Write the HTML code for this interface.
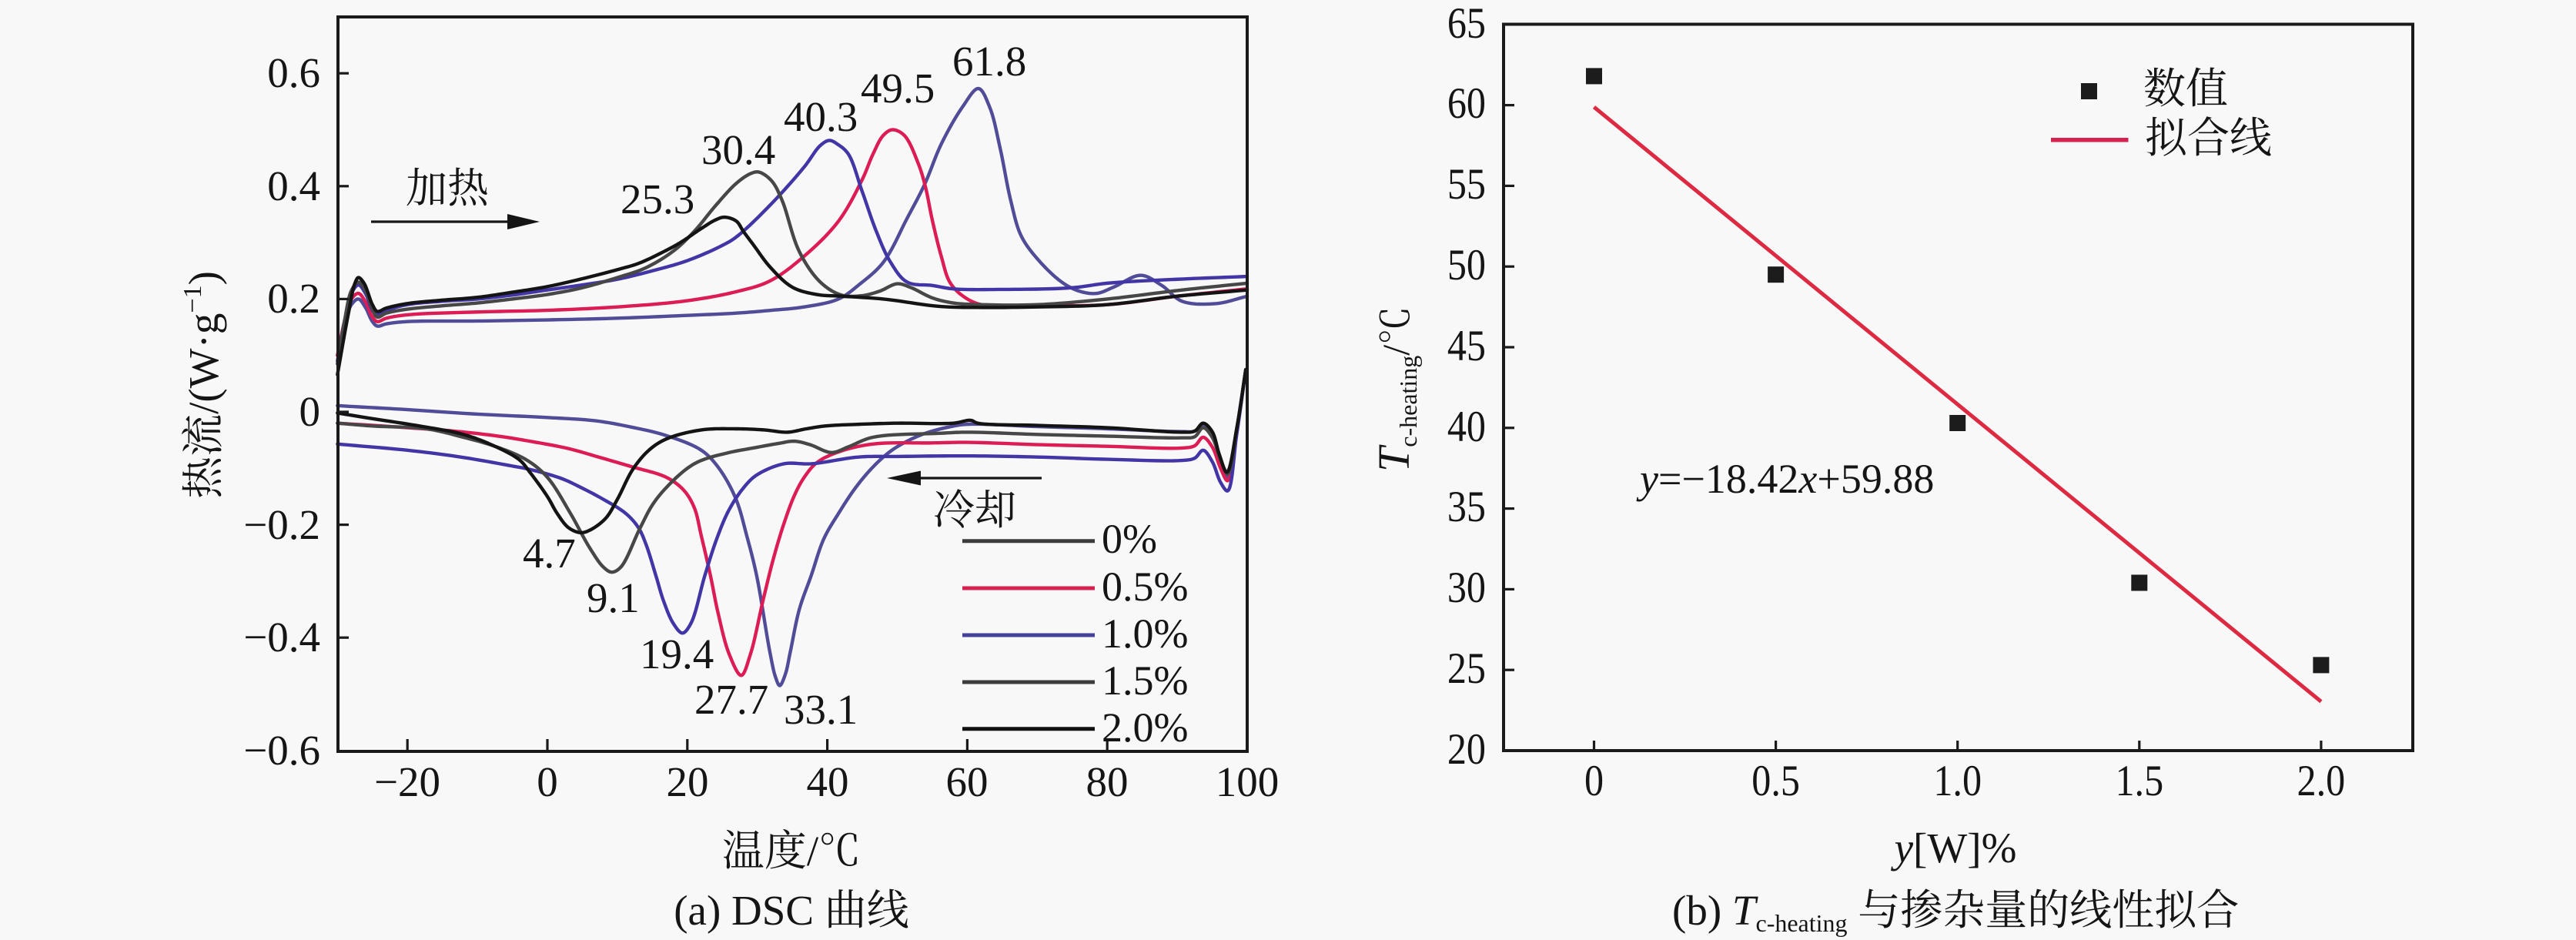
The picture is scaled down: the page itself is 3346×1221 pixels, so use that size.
<!DOCTYPE html>
<html><head><meta charset="utf-8"><style>
html,body{margin:0;padding:0;background:#f8f8f8;}
svg{display:block;}
text{font-family:"Liberation Serif","Noto Serif CJK SC",serif;fill:#151515;}
.c{fill:none;stroke-width:4.4;stroke-linejoin:round;stroke-linecap:round;vector-effect:non-scaling-stroke;}
</style></head><body>
<svg width="3346" height="1221" viewBox="0 0 3346 1221" xmlns="http://www.w3.org/2000/svg">
<rect x="0" y="0" width="3346" height="1221" fill="#f8f8f8"/>

<!-- ============ LEFT CHART ============ -->
<g transform="matrix(9.09 0 0 -733 711 535)">
<!-- heating -->
<polyline class="c sm" stroke="#514c98" points="-30,0.1 -29,0.155 -28,0.19 -27,0.2 -26,0.185 -25,0.16 -24.3,0.152 -23,0.156 -20,0.16 -10,0.161 0,0.163 10,0.166 20,0.171 27,0.175 32,0.18 36.7,0.186 41.6,0.2 44.6,0.226 48,0.265 51.4,0.343 53.9,0.403 56.3,0.475 59.3,0.54 61.6,0.573 63.2,0.54 64.7,0.467 66.2,0.375 67.7,0.312 70.1,0.27 73.5,0.23 76,0.214 78.5,0.21 80.9,0.221 84.8,0.242 87.8,0.224 90.7,0.196 95.6,0.192 100,0.205"/>
<polyline class="c sm" stroke="#dc1d55" points="-30,0.1 -29,0.16 -28,0.2 -27,0.21 -26,0.195 -25,0.168 -24.3,0.16 -23,0.166 -20,0.172 -10,0.177 0,0.18 10,0.186 20,0.197 27,0.213 31.8,0.232 36.7,0.276 41.6,0.338 45,0.412 46.5,0.456 48,0.49 49.3,0.5 51,0.49 53,0.44 54,0.4 55,0.34 56.3,0.275 57.5,0.23 59.3,0.206 62,0.19 70,0.188 80,0.19 90,0.205 100,0.218"/>
<polyline class="c sm" stroke="#4236a6" points="-30,0.09 -29,0.16 -28,0.21 -27,0.225 -26,0.21 -25,0.18 -24.3,0.172 -23,0.18 -20,0.19 -15,0.196 -10,0.2 -5,0.207 0,0.216 5,0.225 10,0.235 15,0.25 20,0.268 25,0.295 27,0.31 31.8,0.366 36.7,0.434 39,0.472 40.3,0.481 41.5,0.474 43,0.457 45,0.39 47,0.32 49,0.266 51.4,0.23 55,0.224 58,0.218 65,0.217 75,0.22 80,0.228 90,0.235 100,0.24"/>
<polyline class="c sm" stroke="#474747" points="-30,0.085 -29,0.16 -28,0.215 -27,0.23 -26,0.215 -25,0.182 -24.3,0.168 -23,0.175 -20,0.182 -15,0.188 -10,0.193 -5,0.2 0,0.208 5,0.22 10,0.238 14,0.255 18,0.285 21,0.32 24,0.365 27,0.405 29,0.422 30.2,0.425 32,0.41 33.5,0.376 36,0.284 39,0.23 42,0.207 45,0.206 47.5,0.214 50,0.227 52,0.22 55,0.202 58,0.193 62,0.19 70,0.19 80,0.2 90,0.215 100,0.228"/>
<polyline class="c sm" stroke="#141414" points="-30,0.066 -28.5,0.17 -27.5,0.228 -27,0.238 -26.2,0.228 -25,0.19 -24.3,0.178 -23,0.184 -20,0.192 -15,0.198 -10,0.203 -5,0.212 0,0.222 5,0.236 10,0.252 13,0.263 16,0.28 19,0.3 22,0.325 24,0.34 25.3,0.345 27,0.338 28,0.32 29.5,0.295 31.8,0.257 35,0.221 38.5,0.208 42,0.205 48,0.2 56,0.187 62,0.185 70,0.186 80,0.19 90,0.205 100,0.216"/>
<!-- cooling -->
<polyline class="c sm" stroke="#514c98" points="-30,0.011 -20,0.004 -10,-0.004 0,-0.01 7,-0.016 12,-0.027 17,-0.042 22,-0.068 24.4,-0.098 26.9,-0.153 28.5,-0.22 29.9,-0.29 31.8,-0.426 32.6,-0.47 33.2,-0.485 34,-0.465 34.7,-0.426 36,-0.35 37.7,-0.29 39.5,-0.225 41.6,-0.18 44,-0.135 46.5,-0.098 49,-0.07 51.4,-0.052 54,-0.038 57.3,-0.027 60,-0.022 70,-0.026 80,-0.03 90.7,-0.035 92.5,-0.034 93.7,-0.022 95,-0.038 96.2,-0.085 97.2,-0.115 98.5,-0.03 99.8,0.075"/>
<polyline class="c sm" stroke="#dc1d55" points="-30,-0.02 -20,-0.028 -13.4,-0.034 -7,-0.043 -2.5,-0.052 3,-0.065 7.3,-0.08 12,-0.097 17,-0.116 19.5,-0.139 21,-0.17 22,-0.22 23.3,-0.29 24.4,-0.357 26,-0.43 27.7,-0.467 29,-0.43 30.8,-0.335 32.3,-0.26 33.8,-0.198 35.3,-0.148 36.7,-0.116 38.5,-0.09 41.6,-0.071 46.5,-0.057 55,-0.055 60,-0.054 70,-0.058 80,-0.061 90.7,-0.064 92.5,-0.06 93.7,-0.045 95,-0.062 96.2,-0.1 97.2,-0.122 98.5,-0.035 99.8,0.075"/>
<polyline class="c sm" stroke="#4236a6" points="-30,-0.057 -20,-0.068 -12.4,-0.08 -5,-0.096 -2.5,-0.102 2,-0.118 4.8,-0.134 8,-0.155 11.2,-0.18 13,-0.205 14.1,-0.235 15.5,-0.29 16.6,-0.335 18,-0.375 19.3,-0.392 20.5,-0.375 22.5,-0.29 24.2,-0.225 25.9,-0.175 28,-0.135 29.9,-0.112 33.8,-0.092 37.7,-0.092 44.5,-0.08 50,-0.079 60,-0.078 70,-0.08 80,-0.084 90.7,-0.086 92.5,-0.082 93.7,-0.068 95,-0.088 96.2,-0.125 97.2,-0.14 98.5,-0.04 99.8,0.075"/>
<polyline class="c sm" stroke="#474747" points="-30,-0.02 -25,-0.025 -17.3,-0.03 -12,-0.045 -7.5,-0.061 -3,-0.085 0,-0.116 3.3,-0.18 6,-0.24 8,-0.275 9.2,-0.284 10.5,-0.275 13.2,-0.207 15,-0.165 17,-0.134 20,-0.1 22,-0.086 26,-0.072 29.4,-0.064 33,-0.056 35.3,-0.052 37.5,-0.058 40.6,-0.072 43,-0.062 46.5,-0.045 56,-0.038 60,-0.036 70,-0.04 80,-0.043 90.7,-0.046 92.5,-0.044 93.7,-0.028 95,-0.045 96.2,-0.085 97.2,-0.11 98.5,-0.03 99.8,0.075"/>
<polyline class="c sm" stroke="#141414" points="-30,-0.002 -25,-0.012 -18.3,-0.025 -12,-0.04 -7.5,-0.061 -4,-0.085 -2.5,-0.107 0,-0.15 1.4,-0.18 3,-0.205 4.7,-0.214 6,-0.21 8.3,-0.189 10,-0.155 12.2,-0.102 14.5,-0.068 17,-0.048 22,-0.032 26.9,-0.03 31,-0.032 34.3,-0.036 37,-0.03 39.7,-0.025 44.5,-0.022 50,-0.02 58,-0.02 60.5,-0.015 61.5,-0.02 70,-0.024 80,-0.028 90.7,-0.036 92.5,-0.034 93.7,-0.02 95,-0.035 96,-0.075 97.1,-0.107 98.5,-0.03 99.8,0.075"/>
</g>

<!-- left frame -->
<rect x="439" y="22" width="1181" height="954" fill="none" stroke="#1a1a1a" stroke-width="4"/>
<g stroke="#1a1a1a" stroke-width="3.2">
<line x1="439" y1="95.2" x2="453" y2="95.2"/>
<line x1="439" y1="241.8" x2="453" y2="241.8"/>
<line x1="439" y1="388.4" x2="453" y2="388.4"/>
<line x1="439" y1="535" x2="453" y2="535"/>
<line x1="439" y1="681.6" x2="453" y2="681.6"/>
<line x1="439" y1="828.2" x2="453" y2="828.2"/>
<line x1="529.2" y1="976" x2="529.2" y2="960"/>
<line x1="711" y1="976" x2="711" y2="960"/>
<line x1="892.8" y1="976" x2="892.8" y2="960"/>
<line x1="1074.6" y1="976" x2="1074.6" y2="960"/>
<line x1="1256.4" y1="976" x2="1256.4" y2="960"/>
<line x1="1438.2" y1="976" x2="1438.2" y2="960"/>
</g>
<g font-size="55" text-anchor="end">
<text x="416" y="113">0.6</text>
<text x="416" y="260">0.4</text>
<text x="416" y="406">0.2</text>
<text x="416" y="553">0</text>
<text x="416" y="700">−0.2</text>
<text x="416" y="846">−0.4</text>
<text x="416" y="993">−0.6</text>
</g>
<g font-size="55" text-anchor="middle">
<text x="529" y="1034">−20</text>
<text x="711" y="1034">0</text>
<text x="893" y="1034">20</text>
<text x="1075" y="1034">40</text>
<text x="1256" y="1034">60</text>
<text x="1438" y="1034">80</text>
<text x="1620" y="1034">100</text>
</g>
<text transform="translate(283,500) rotate(-90)" font-size="55" text-anchor="middle">热流/(W·g<tspan font-size="34" dy="-22">−1</tspan><tspan dy="22">)</tspan></text>
<text x="1028" y="1124" font-size="55" text-anchor="middle">温度/℃</text>
<text x="1028" y="1201" font-size="55" text-anchor="middle">(a) DSC 曲线</text>

<!-- peak labels -->
<g font-size="55">
<text x="806" y="277">25.3</text>
<text x="911" y="213">30.4</text>
<text x="1018" y="170">40.3</text>
<text x="1118" y="133">49.5</text>
<text x="1237" y="98">61.8</text>
<text x="679" y="737">4.7</text>
<text x="762" y="795">9.1</text>
<text x="831" y="868">19.4</text>
<text x="902" y="927">27.7</text>
<text x="1018" y="940">33.1</text>
</g>
<!-- arrows -->
<text x="527" y="263" font-size="54">加热</text>
<line x1="482" y1="288" x2="665" y2="288" stroke="#151515" stroke-width="3.2"/>
<polygon points="659,278 701,288 659,298" fill="#151515"/>
<text x="1212" y="681" font-size="54">冷却</text>
<line x1="1192" y1="621" x2="1353" y2="621" stroke="#151515" stroke-width="3.2"/>
<polygon points="1196,611.5 1152,621 1196,630.5" fill="#151515"/>
<!-- legend -->
<g stroke-width="5">
<line x1="1250" y1="702.7" x2="1422" y2="702.7" stroke="#3c3c3c"/>
<line x1="1250" y1="764" x2="1422" y2="764" stroke="#d6204e"/>
<line x1="1250" y1="825" x2="1422" y2="825" stroke="#45409a"/>
<line x1="1250" y1="886" x2="1422" y2="886" stroke="#3c3c3c"/>
<line x1="1250" y1="946.7" x2="1422" y2="946.7" stroke="#111111"/>
</g>
<g font-size="54">
<text x="1431" y="718">0%</text>
<text x="1431" y="780">0.5%</text>
<text x="1431" y="841">1.0%</text>
<text x="1431" y="902">1.5%</text>
<text x="1431" y="963">2.0%</text>
</g>

<!-- ============ RIGHT CHART ============ -->
<rect x="1953" y="31.5" width="1181" height="943.5" fill="none" stroke="#1a1a1a" stroke-width="4"/>
<g stroke="#1a1a1a" stroke-width="3.2">
<line x1="1953" y1="870.2" x2="1967" y2="870.2"/>
<line x1="1953" y1="765.4" x2="1967" y2="765.4"/>
<line x1="1953" y1="660.6" x2="1967" y2="660.6"/>
<line x1="1953" y1="555.8" x2="1967" y2="555.8"/>
<line x1="1953" y1="451" x2="1967" y2="451"/>
<line x1="1953" y1="346.2" x2="1967" y2="346.2"/>
<line x1="1953" y1="241.4" x2="1967" y2="241.4"/>
<line x1="1953" y1="136.6" x2="1967" y2="136.6"/>
<line x1="2070.5" y1="975" x2="2070.5" y2="962"/>
<line x1="2306.6" y1="975" x2="2306.6" y2="962"/>
<line x1="2542.7" y1="975" x2="2542.7" y2="962"/>
<line x1="2778.8" y1="975" x2="2778.8" y2="962"/>
<line x1="3014.9" y1="975" x2="3014.9" y2="962"/>
</g>
<g font-size="57" text-anchor="end">
<text transform="translate(1930,992) scale(0.88,1)">20</text>
<text transform="translate(1930,887) scale(0.88,1)">25</text>
<text transform="translate(1930,782) scale(0.88,1)">30</text>
<text transform="translate(1930,677) scale(0.88,1)">35</text>
<text transform="translate(1930,573) scale(0.88,1)">40</text>
<text transform="translate(1930,468) scale(0.88,1)">45</text>
<text transform="translate(1930,363) scale(0.88,1)">50</text>
<text transform="translate(1930,258) scale(0.88,1)">55</text>
<text transform="translate(1930,153) scale(0.88,1)">60</text>
<text transform="translate(1930,49) scale(0.88,1)">65</text>
</g>
<g font-size="57" text-anchor="middle">
<text transform="translate(2070.5,1033) scale(0.88,1)">0</text>
<text transform="translate(2306.6,1033) scale(0.88,1)">0.5</text>
<text transform="translate(2542.7,1033) scale(0.88,1)">1.0</text>
<text transform="translate(2778.8,1033) scale(0.88,1)">1.5</text>
<text transform="translate(3014.9,1033) scale(0.88,1)">2.0</text>
</g>
<!-- fit line -->
<line x1="2070.5" y1="139.1" x2="3014.9" y2="911.3" stroke="#dc2a42" stroke-width="5"/>
<!-- points -->
<g fill="#1c1c1c">
<rect x="2060" y="88.4" width="21" height="21"/>
<rect x="2296.1" y="346.2" width="21" height="21"/>
<rect x="2532.2" y="539" width="21" height="21"/>
<rect x="2768.3" y="746.5" width="21" height="21"/>
<rect x="3004.4" y="853.4" width="21" height="21"/>
</g>
<!-- legend -->
<rect x="2703" y="108" width="21" height="21" fill="#1c1c1c"/>
<text x="2784" y="134" font-size="55">数值</text>
<line x1="2664" y1="181.7" x2="2764.5" y2="181.7" stroke="#d6204e" stroke-width="5.5"/>
<text x="2786" y="198" font-size="55">拟合线</text>
<!-- equation -->
<text x="2130" y="640" font-size="54"><tspan font-style="italic">y</tspan>=−18.42<tspan font-style="italic">x</tspan>+59.88</text>
<!-- axis titles -->
<text transform="translate(1830,613) rotate(-90)" font-size="58"><tspan font-style="italic">T</tspan><tspan font-size="32" dy="10">c-heating</tspan><tspan font-size="50" dy="-10">/℃</tspan></text>
<text x="2540" y="1120" font-size="55" text-anchor="middle"><tspan font-style="italic">y</tspan>[W]%</text>
<text x="2172" y="1201" font-size="55">(b) <tspan font-style="italic">T</tspan><tspan font-size="32" dy="9">c-heating</tspan><tspan dy="-9"> 与掺杂量的线性拟合</tspan></text>
</svg>
<script>
(function(){
var A=9.09,B=711,C=-733,D=535;
function lerp(p,q,ta,tb,t){var a=(tb-t)/(tb-ta),b=(t-ta)/(tb-ta);return [p[0]*a+q[0]*b,p[1]*a+q[1]*b];}
function dd(a,b){var v=Math.pow(Math.sqrt((b[0]-a[0])*(b[0]-a[0])+(b[1]-a[1])*(b[1]-a[1])),0.5);return v<1e-4?1e-4:v;}
var pls=document.querySelectorAll('polyline.sm');
for(var k=0;k<pls.length;k++){
 var pl=pls[k];
 var raw=pl.getAttribute('points').trim().split(/\s+/).map(function(s){var a=s.split(',');return [B+A*parseFloat(a[0]),D+C*parseFloat(a[1])];});
 var n=raw.length;if(n<3)continue;
 var ext=[[2*raw[0][0]-raw[1][0],2*raw[0][1]-raw[1][1]]].concat(raw,[[2*raw[n-1][0]-raw[n-2][0],2*raw[n-1][1]-raw[n-2][1]]]);
 var out=[];
 for(var i=1;i<ext.length-2;i++){
  var p0=ext[i-1],p1=ext[i],p2=ext[i+1],p3=ext[i+2];
  var t0=0,t1=t0+dd(p0,p1),t2=t1+dd(p1,p2),t3=t2+dd(p2,p3);
  for(var s=0;s<12;s++){
   var t=t1+(t2-t1)*s/12;
   var A1=lerp(p0,p1,t0,t1,t),A2=lerp(p1,p2,t1,t2,t),A3=lerp(p2,p3,t2,t3,t);
   var B1=lerp(A1,A2,t0,t2,t),B2=lerp(A2,A3,t1,t3,t);
   out.push(lerp(B1,B2,t1,t2,t));
  }
 }
 out.push(raw[n-1]);
 pl.setAttribute('points',out.map(function(p){return ((p[0]-B)/A).toFixed(4)+','+((p[1]-D)/C).toFixed(5);}).join(' '));
}
})();
</script>
</body></html>
